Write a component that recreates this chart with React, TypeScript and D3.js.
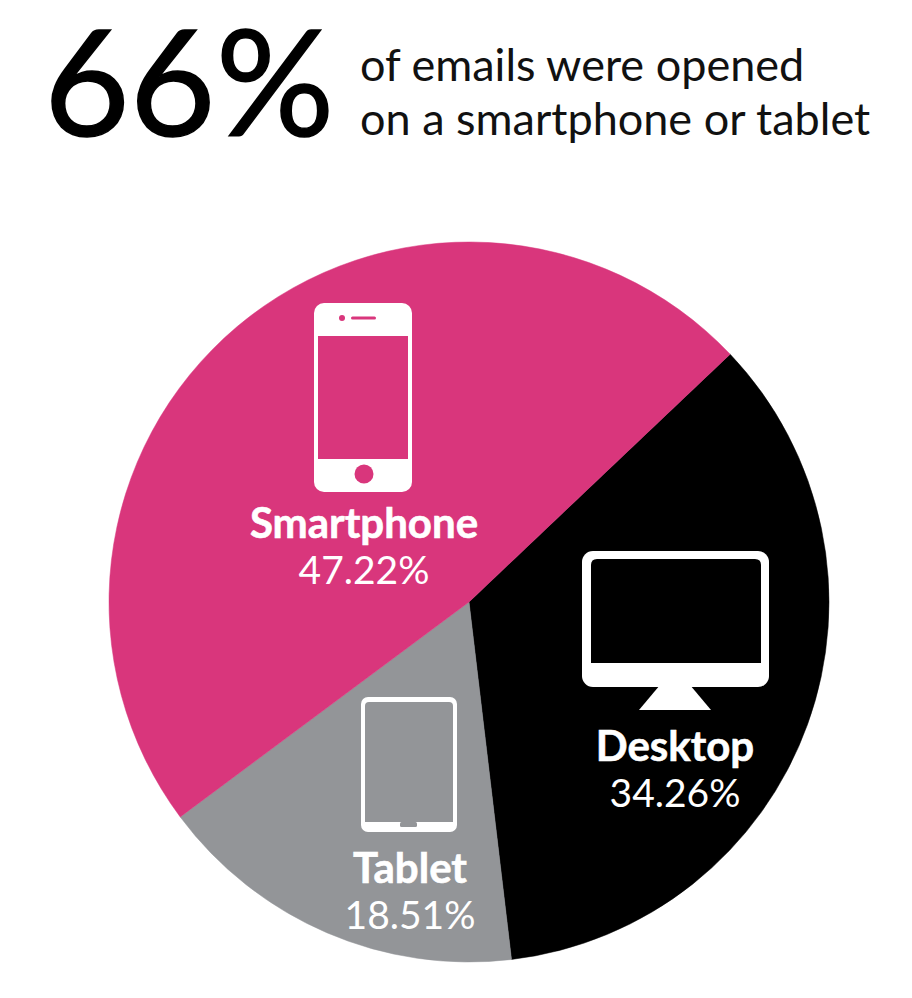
import React, { useEffect, useRef } from "react";
import * as d3 from "d3";

const categories = ["Desktop", "Tablet", "Smartphone"];
// printed percentages
const labels = ["34.26%", "18.51%", "47.22%"];
// slice sizes as drawn in the picture, they differ a bit from the printed ones
const drawnShares = [35.2, 16.7, 48.1];
const colors = ["#000000", "#939598", "#d9367c"];
const headline = "66%";
const subLines = ["of emails were opened", "on a smartphone or tablet"];

const width = 912;
const height = 998;
const cx = 469;
const cy = 602;
const radius = 360;
const font = "Lato, 'Noto Sans', sans-serif";

const App: React.FC = () => {
  const svgRef = useRef<SVGSVGElement | null>(null);

  useEffect(() => {
    const svg = d3.select(svgRef.current);
    svg.selectAll("*").remove();

    // Header
    svg
      .append("text")
      .attr("x", 44)
      .attr("y", 136)
      .attr("font-family", font)
      .attr("font-size", 148)
      .attr("fill", "#000")
      .attr("stroke", "#000")
      .attr("stroke-width", 1.5)
      .text(headline);

    svg
      .selectAll("text.sub")
      .data(subLines)
      .join("text")
      .attr("class", "sub")
      .attr("x", 360)
      .attr("y", (_, i) => 81 + i * 54)
      .attr("font-family", font)
      .attr("font-size", 45)
      .attr("fill", "#111")
      .text((d) => d);

    // Pie
    const pie = d3
      .pie<number>()
      .sort(null)
      .startAngle((46.5 * Math.PI) / 180)
      .endAngle((406.5 * Math.PI) / 180);
    const arc = d3.arc<d3.PieArcDatum<number>>().innerRadius(0).outerRadius(radius);

    svg
      .append("g")
      .attr("transform", `translate(${cx}, ${cy})`)
      .selectAll("path")
      .data(pie(drawnShares))
      .join("path")
      .attr("d", arc)
      .attr("fill", (_, i) => colors[i])
      .attr("stroke", (_, i) => colors[i])
      .attr("stroke-width", 0.5);

    // Labels
    const labelPos = [
      { x: 675, y: 761 },
      { x: 410, y: 883 },
      { x: 364, y: 538 },
    ];
    const labelGroup = svg
      .append("g")
      .attr("font-family", font)
      .attr("fill", "#fff")
      .attr("text-anchor", "middle");

    categories.forEach((name, i) => {
      labelGroup
        .append("text")
        .attr("x", labelPos[i].x)
        .attr("y", labelPos[i].y)
        .attr("font-size", 42)
        .attr("font-weight", 700)
        .attr("stroke", "#fff")
        .attr("stroke-width", 0.6)
        .text(name);
      labelGroup
        .append("text")
        .attr("x", labelPos[i].x)
        .attr("y", labelPos[i].y + 46)
        .attr("font-size", 39)
        .text(labels[i]);
    });

    // Smartphone icon
    const phone = svg.append("g");
    phone.append("rect").attr("x", 314).attr("y", 303).attr("width", 98).attr("height", 189).attr("rx", 10).attr("fill", "#fff");
    phone.append("rect").attr("x", 318).attr("y", 336).attr("width", 90).attr("height", 123).attr("fill", colors[2]);
    phone.append("circle").attr("cx", 364).attr("cy", 474).attr("r", 9.5).attr("fill", colors[2]);
    phone.append("circle").attr("cx", 342).attr("cy", 318).attr("r", 3).attr("fill", colors[2]);
    phone.append("rect").attr("x", 351).attr("y", 316.5).attr("width", 25).attr("height", 3).attr("rx", 1.5).attr("fill", colors[2]);

    // Desktop icon
    const desktop = svg.append("g");
    desktop.append("path").attr("d", "M660,685L690,685L711,710L639,710Z").attr("fill", "#fff");
    desktop.append("rect").attr("x", 582).attr("y", 551).attr("width", 187).attr("height", 136).attr("rx", 11).attr("fill", "#fff");
    desktop.append("path").attr("d", "M597,559H755Q761,559 761,565V663H591V565Q591,559 597,559Z").attr("fill", colors[0]);

    // Tablet icon
    const tablet = svg.append("g");
    tablet.append("rect").attr("x", 361).attr("y", 697).attr("width", 96).attr("height", 135).attr("rx", 7).attr("fill", "#fff");
    tablet.append("path").attr("d", "M369,702H449Q453,702 453,706V822H365V706Q365,702 369,702Z").attr("fill", colors[1]);
    tablet.append("rect").attr("x", 400).attr("y", 822).attr("width", 17).attr("height", 5).attr("rx", 1.5).attr("fill", colors[1]);
  }, []);

  return (
    <svg
      ref={svgRef}
      width={width}
      height={height}
      style={{ position: "absolute", left: 0, top: 0, background: "#fff" }}
    ></svg>
  );
};

export default App;
